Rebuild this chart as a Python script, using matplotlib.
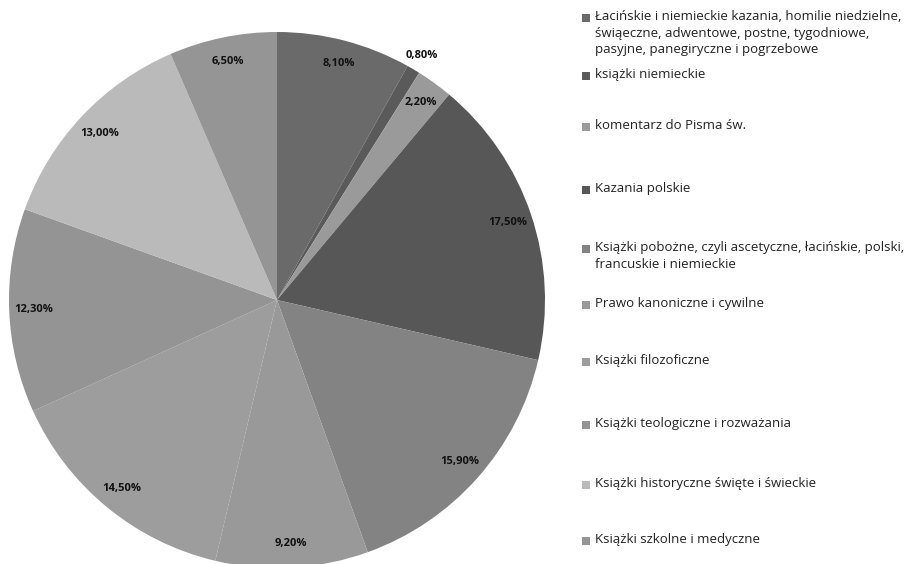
import matplotlib.pyplot as plt
from matplotlib.patches import Rectangle
import numpy as np

# ─── Data ───
categories = [
    "Łacińskie i niemieckie kazania, homilie niedzielne,\nświąeczne, adwentowe, postne, tygodniowe,\npasyjne, panegiryczne i pogrzebowe",
    "książki niemieckie",
    "komentarz do Pisma św.",
    "Kazania polskie",
    "Książki pobożne, czyli ascetyczne, łacińskie, polski,\nfrancuskie i niemieckie",
    "Prawo kanoniczne i cywilne",
    "Książki filozoficzne",
    "Książki teologiczne i rozważania",
    "Książki historyczne święte i świeckie",
    "Książki szkolne i medyczne",
]
shares = [8.10, 0.80, 2.20, 17.50, 15.90, 9.20, 14.50, 12.30, 13.00, 6.50]
colors = ["#6a6a6a", "#5a5a5a", "#9a9a9a", "#575757", "#838383",
          "#999999", "#9d9d9d", "#949494", "#bababa", "#959595"]

W, H = 910, 564
fig = plt.figure(figsize=(W / 100, H / 100), dpi=100)
fig.patch.set_facecolor("white")

# pie axes placed in pixels: centre (277, 300), radius 268
cx, cy, r = 277, 300, 268
ax = fig.add_axes([(cx - r) / W, (H - cy - r) / H, 2 * r / W, 2 * r / H])

wedges, _ = ax.pie(shares, colors=colors, startangle=90, counterclock=False,
                   radius=1, wedgeprops=dict(linewidth=0))
ax.set_xlim(-1, 1)
ax.set_ylim(-1, 1)
ax.axis("off")

for w, val in zip(wedges, shares):
    ang = np.deg2rad((w.theta1 + w.theta2) / 2)
    dist = 1.06 if val < 1 else 0.91
    ax.text(dist * np.cos(ang), dist * np.sin(ang),
            f"{val:.2f}".replace(".", ",") + "%",
            ha="center", va="center", fontsize=8, fontweight="bold",
            color="#111111", family="Open Sans")

# ─── Legend, drawn by hand ───
legend_y = [18, 76, 127, 190, 249, 305, 362, 425, 485, 541]
for lab, col, y in zip(categories, colors, legend_y):
    fig.patches.append(Rectangle((582 / W, (H - y - 4) / H), 8 / W, 8 / H,
                                 transform=fig.transFigure, facecolor=col,
                                 edgecolor="none"))
    fig.text(595 / W, (H - y + 8) / H, lab, ha="left", va="top",
             fontsize=9.5, color="#222222", family="Open Sans",
             linespacing=1.35, transform=fig.transFigure)

plt.savefig("out.png", dpi=100, facecolor="white")
plt.close()
